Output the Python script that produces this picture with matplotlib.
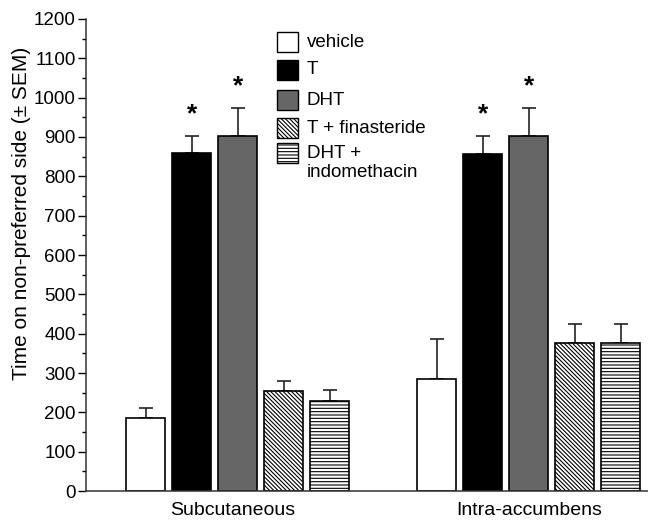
import numpy as np
import matplotlib
matplotlib.use("Agg")
import matplotlib.pyplot as plt
from matplotlib.patches import Rectangle

plt.rcParams['font.family'] = ['Liberation Sans', 'DejaVu Sans']
plt.rcParams['hatch.linewidth'] = 0.8

# data
groups = ['Subcutaneous', 'Intra-accumbens']
treatments = ['vehicle', 'T', 'DHT', 'T + finasteride', 'DHT +\nindomethacin']
means_sc = [186, 859, 903, 254, 229]
sem_sc = [25, 44, 71, 26, 28]
means_ia = [285, 857, 903, 376, 376]
sem_ia = [101, 46, 71, 49, 49]
signif_sc = [False, True, True, False, False]
signif_ia = [False, True, True, False, False]

colors = ['white', 'black', '#666666', 'white', 'white']
hatches = [None, None, None, '\\' * 8, '-----']

fig = plt.figure(figsize=(6.48, 5.23), dpi=100)
ax = fig.add_axes([86/648, 32/523, 562/648, 472/523])

group_x = [0.0, 6.33]
width = 0.85
allmeans = [means_sc, means_ia]
allsem = [sem_sc, sem_ia]
allsig = [signif_sc, signif_ia]

for g in range(2):
    xs = group_x[g] + np.arange(5)
    m = np.array(allmeans[g])
    e = np.array(allsem[g])
    for i in range(5):
        ax.bar(xs[i], m[i], width, color=colors[i], edgecolor='black',
               linewidth=1.2, hatch=hatches[i], zorder=2)
    ax.errorbar(xs, m, yerr=[np.zeros(5), e], fmt='none', ecolor='#222222',
                elinewidth=1.2, capsize=5, capthick=1.2, zorder=1)
    for i in range(5):
        if allsig[g][i]:
            ax.text(xs[i], m[i] + e[i] + 55, '*', ha='center', va='center',
                    fontsize=19, fontweight='bold')

ax.set_xlim(-1.30, 10.92)
ax.set_ylim(0, 1200)
ax.set_yticks(np.arange(0, 1201, 100))
ax.set_yticks(np.arange(50, 1200, 100), minor=True)
ax.tick_params(axis='y', which='major', length=6, width=1, labelsize=13.5, pad=1.5)
ax.tick_params(axis='y', which='minor', length=3, width=1)
ax.set_xticks([group_x[0] + 1.9, group_x[1] + 2.0])
ax.set_xticklabels(groups, fontsize=14)
ax.tick_params(axis='x', length=0, pad=8)
for s in ['top', 'right']:
    ax.spines[s].set_visible(False)
for s in ['left', 'bottom']:
    ax.spines[s].set_linewidth(1.1)
    ax.spines[s].set_color('#333333')

fig.text(22/648, 1 - 213/523, 'Time on non-preferred side (\u00b1 SEM)',
         rotation=90, ha='center', va='center', fontsize=15)

# legend
leg_y = [0.951, 0.892, 0.828, 0.769, 0.716]
bw, bh = 0.0374, 0.042
for i in range(5):
    ax.add_patch(Rectangle((0.340, leg_y[i] - bh/2), bw, bh, transform=ax.transAxes,
                           facecolor=colors[i], edgecolor='black', linewidth=1.0,
                           hatch=hatches[i], clip_on=False))
    if '\n' in treatments[i]:
        ax.text(0.393, leg_y[i] + bh/2 - 0.004, treatments[i], transform=ax.transAxes,
                ha='left', va='top', fontsize=13.5, linespacing=1.12)
    else:
        ax.text(0.393, leg_y[i], treatments[i], transform=ax.transAxes,
                ha='left', va='center', fontsize=13.5)

fig.savefig('out.png', dpi=100)
